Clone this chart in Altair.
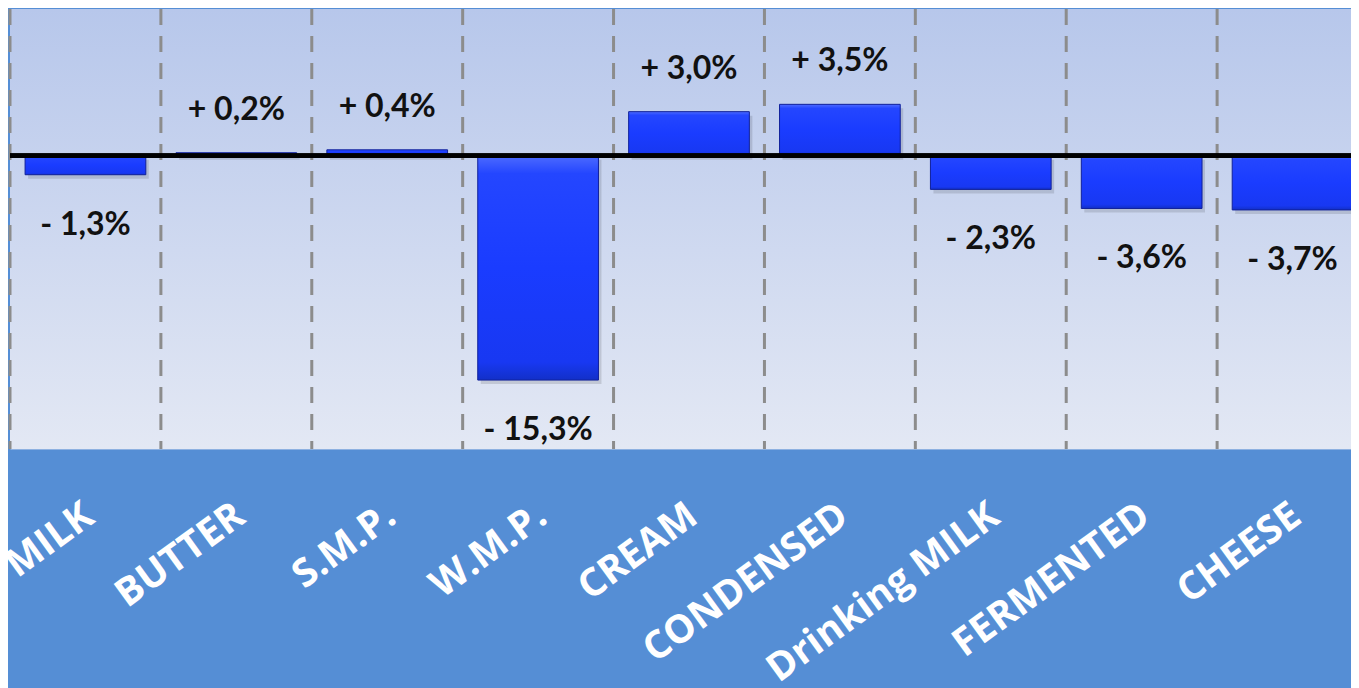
import altair as alt
import pandas as pd

categories = ["MILK", "BUTTER", "S.M.P.", "W.M.P.", "CREAM", "CONDENSED",
              "Drinking MILK", "FERMENTED", "CHEESE"]
changes = [-1.3, 0.2, 0.4, -15.3, 3.0, 3.5, -2.3, -3.6, -3.7]


def fmt(v):
    sign = "+ " if v > 0 else "- "
    return sign + f"{abs(v):.1f}".replace(".", ",") + "%"


df = pd.DataFrame({"cat": categories, "chg": changes,
                   "label": [fmt(v) for v in changes]})

xaxis = alt.Axis(title=None, labelAngle=-36, labelAlign="right",
                 labelBaseline="middle", labelColor="white",
                 labelFont="Open Sans", labelFontWeight="bold",
                 labelFontSize=39, labelPadding=62, labelOffset=4,
                 labelLimit=500, domain=False, ticks=False, grid=False)
xscale = alt.Scale(domain=categories, range=[0, 1358],
                   paddingInner=0, paddingOuter=0)
x = alt.X("cat:N", sort=categories, scale=xscale, axis=xaxis)
yscale = alt.Scale(domain=[-20, 10], nice=False)
y = alt.Y("chg:Q", scale=yscale, axis=None)

bar_grad = alt.LinearGradient(
    gradient="linear", x1=0, y1=0, x2=0, y2=1,
    stops=[alt.GradientStop(offset=0, color="#4d6bff"),
           alt.GradientStop(offset=0.08, color="#2446ff"),
           alt.GradientStop(offset=0.5, color="#1a3cff"),
           alt.GradientStop(offset=0.92, color="#1838f2"),
           alt.GradientStop(offset=1, color="#1230c8")])

view_grad = alt.LinearGradient(
    gradient="linear", x1=0, y1=0, x2=0, y2=1,
    stops=[alt.GradientStop(offset=0, color="#b7c7eb"),
           alt.GradientStop(offset=1, color="#e3e8f4")])

base = alt.Chart(df)

panel = alt.Chart(pd.DataFrame({"k": [0]})).mark_rect(fill=view_grad).encode(
    x=alt.value(0), x2=alt.value("width"), y=alt.value(0), y2=alt.value("height"))
grid = base.mark_rule(color="#8c8c8c", strokeWidth=3, strokeDash=[16, 11]).encode(
    x=alt.X("cat:N", sort=categories, scale=xscale, bandPosition=0, axis=xaxis))
shadow = base.mark_bar(fill="#000000", opacity=0.12, xOffset=3, yOffset=4,
                       width=alt.RelativeBandSize(0.8)).encode(x=x, y=y)
bars = base.mark_bar(color=bar_grad, stroke="#10209a", strokeWidth=1,
                     width=alt.RelativeBandSize(0.8)).encode(x=x, y=y)
zero = base.transform_calculate(base0="0").mark_rule(
    color="black", strokeWidth=4).encode(
    y=alt.Y("base0:Q", scale=yscale, axis=None))
pos_txt = base.transform_filter("datum.chg > 0").mark_text(
    dy=-43, font="Lato", fontWeight="bold", fontSize=32, color="#111111"
).encode(x=x, y=y, text="label:N")
neg_txt = base.transform_filter("datum.chg < 0").mark_text(
    dy=50, font="Lato", fontWeight="bold", fontSize=32, color="#111111"
).encode(x=x, y=y, text="label:N")

chart = alt.layer(panel, grid, shadow, bars, zero, pos_txt, neg_txt).properties(
    width=1341, height=440,
    autosize=alt.AutoSizeParams(type="none"),
    padding={"left": 2, "top": 1, "right": 0, "bottom": 247},
    background="#558ed5",
).configure_view(stroke="transparent", fill="#c8d4ee")

chart.save("out.html", embed_options={"renderer": "svg", "actions": False})
